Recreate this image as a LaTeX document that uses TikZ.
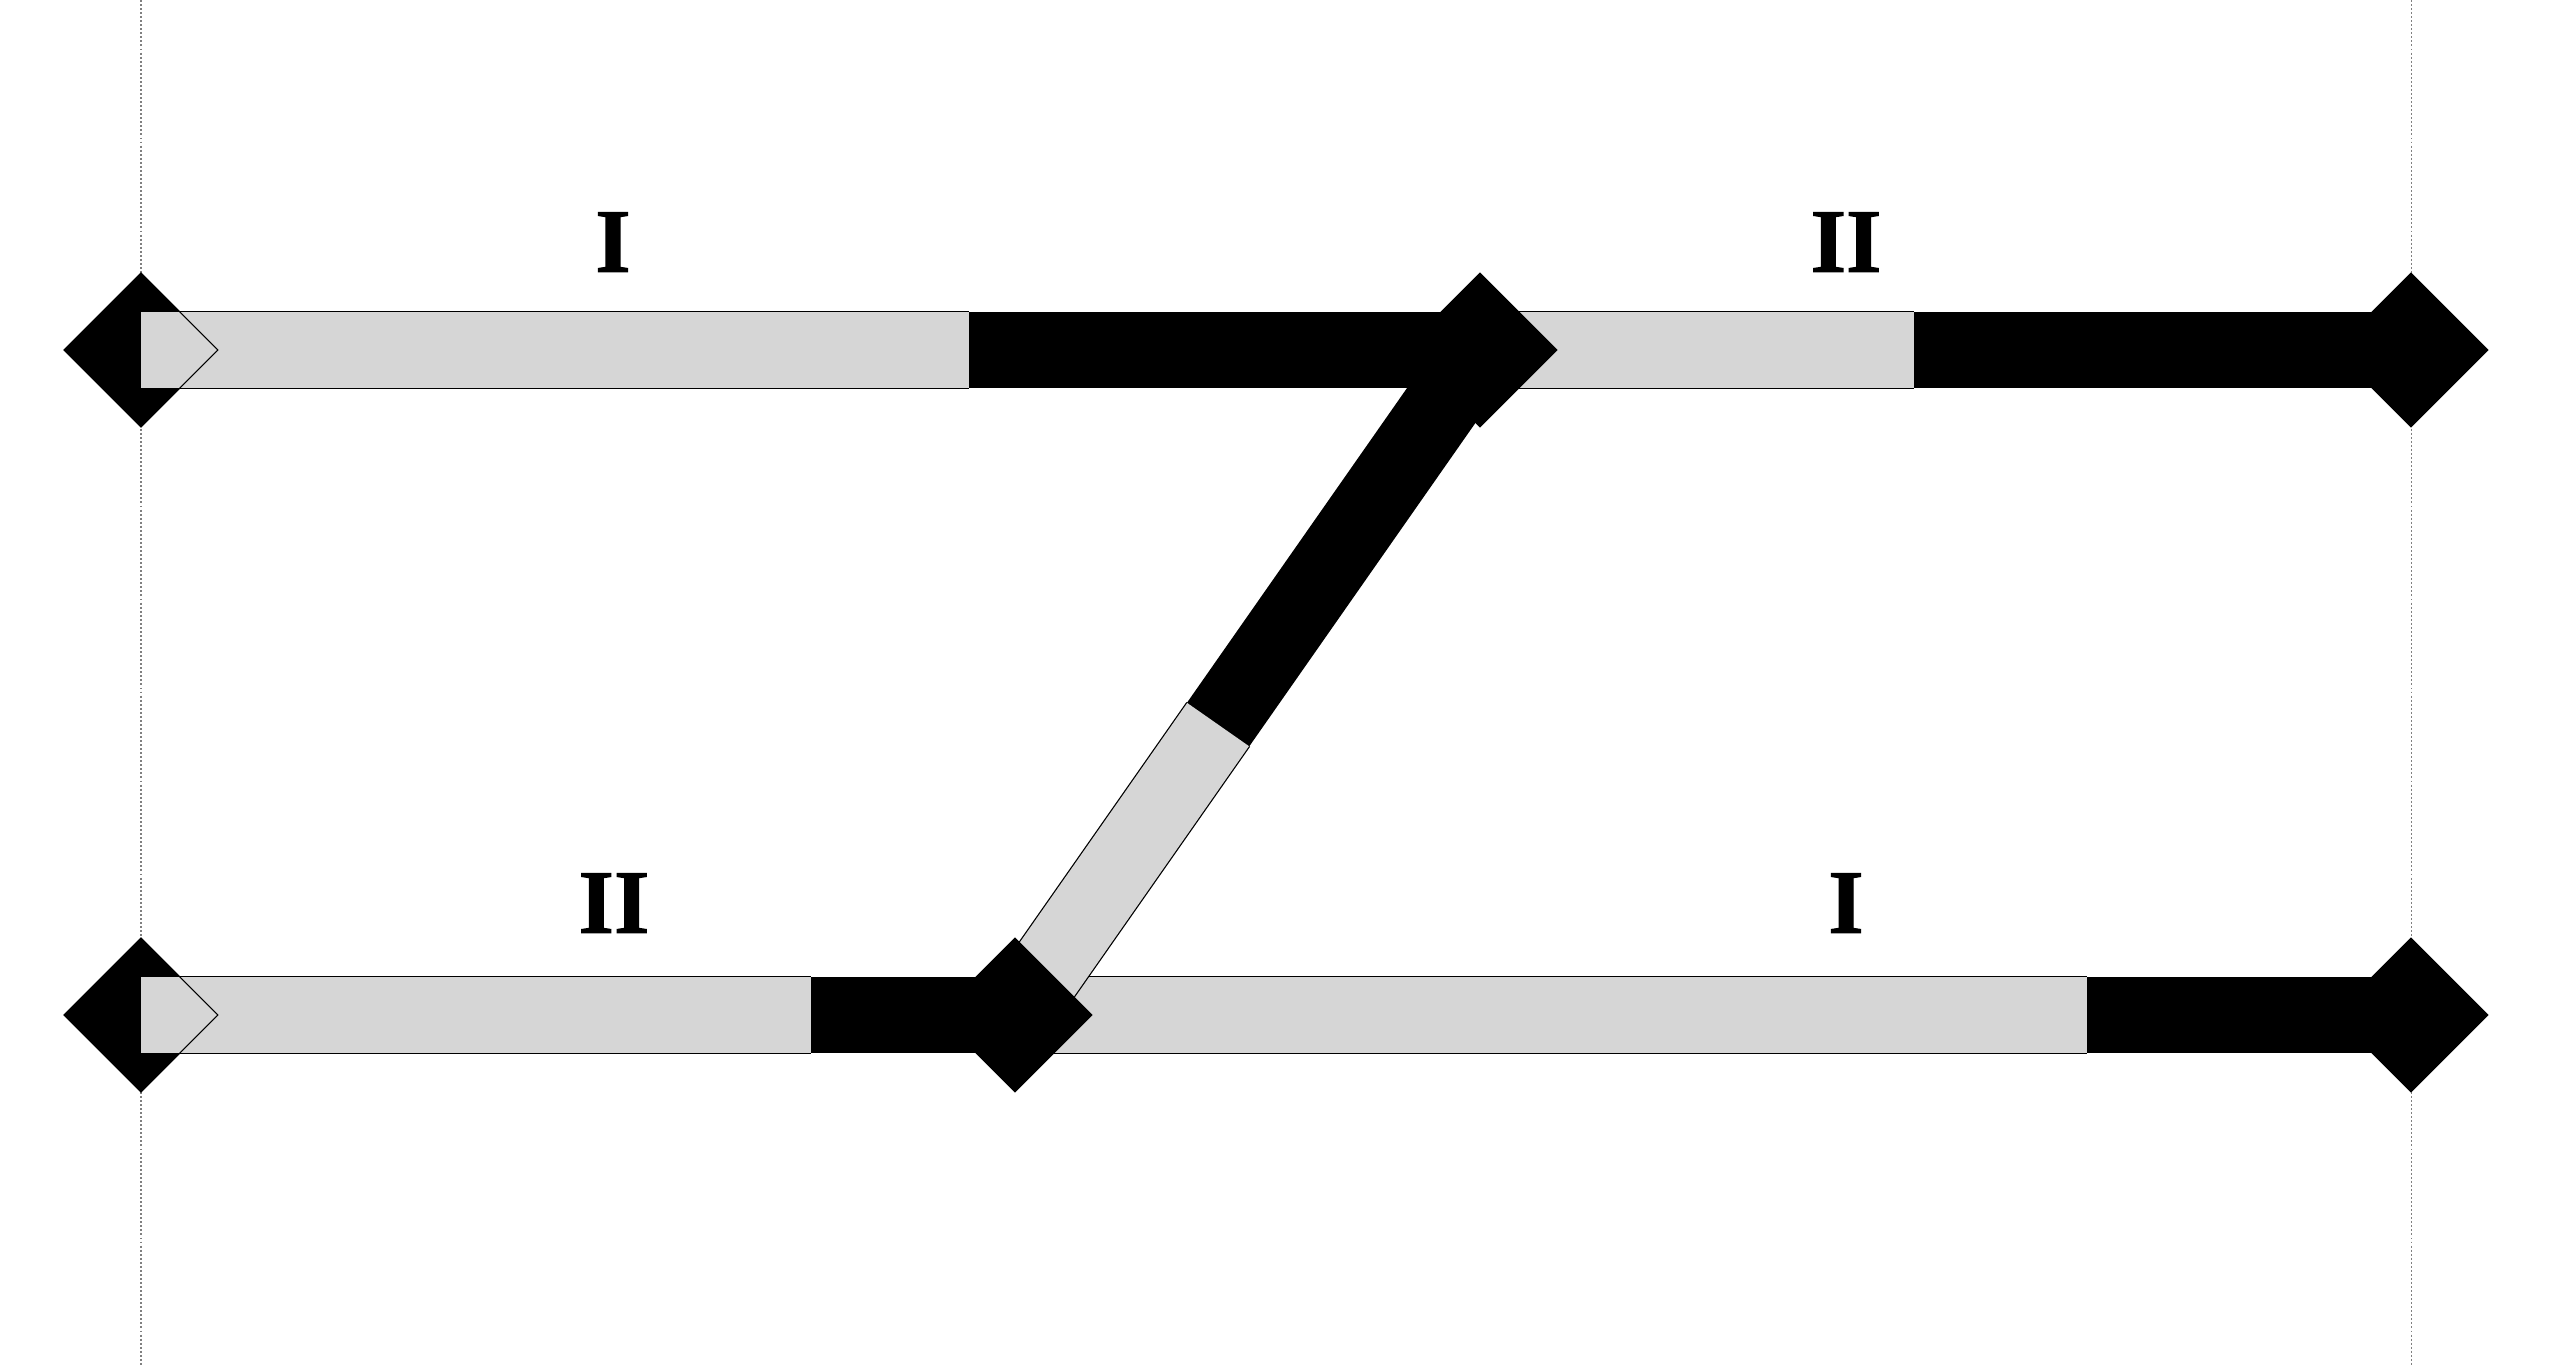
\documentclass[tikz,border=0pt]{standalone}
\usepackage{fontspec}
\setmainfont{Liberation Serif}
\newfontfamily\labelfont[BoldFeatures={FakeBold=1.2}]{Liberation Serif}
\usetikzlibrary{shapes.geometric,calc}
\definecolor{barGray}{RGB}{214,214,214}
\definecolor{guideGray}{RGB}{128,128,128}
\tikzset{
  station/.style={diamond, aspect=1, minimum width=1.54cm, minimum height=1.54cm, inner sep=0pt, fill=black, draw=black, line width=0.3pt},
  stationoutline/.style={diamond, aspect=1, minimum width=1.54cm, minimum height=1.54cm, inner sep=0pt, draw=black, line width=0.3pt},
  graybar/.style={draw=black, line width=0.35pt, double=barGray, double distance=0.7525cm, line cap=butt},
  blackbar/.style={draw=black, line width=0.76cm, line cap=butt},
  guide/.style={draw=guideGray, line width=0.3pt, dash pattern=on 0.55pt off 0.6pt},
  tracklabel/.style={inner sep=0pt, font=\labelfont\fontsize{25.8}{30}\selectfont\bfseries}
}
\begin{document}
\begin{tikzpicture}[x=0.01cm, y=-0.01cm]
\useasboundingbox (0,0) rectangle (2552,1366);
% guide lines
\coordinate (gl1) at (141,0);
\coordinate (gl2) at (141,1366);
\coordinate (gr1) at (2411,0);
\coordinate (gr2) at (2411,1366);
\draw[guide] (gl1) -- (gl2);
\draw[guide] (gr1) -- (gr2);
% left stations (under bars)
\node[station] (L1) at (141,350) {};
\node[station] (L2) at (141,1015) {};
% split coordinates
\coordinate (s1) at (969,350);
\coordinate (T2c) at (1480,350);
\coordinate (s2) at (1914,350);
\coordinate (R1c) at (2411,350);
\coordinate (s3) at (811,1015);
\coordinate (B2c) at (1015,1015);
\coordinate (s4) at (2087,1015);
\coordinate (R2c) at (2411,1015);
\coordinate (s5) at ($(B2c)!0.437!(T2c)$);
% top row
\draw[graybar] (L1.center) -- (s1);
\draw[blackbar] (s1) -- (T2c);
\draw[graybar] (T2c) -- (s2);
\draw[blackbar] (s2) -- (R1c);
% bottom row
\draw[graybar] (L2.center) -- (s3);
\draw[blackbar] (s3) -- (B2c);
\draw[graybar] (B2c) -- (s4);
\draw[blackbar] (s4) -- (R2c);
% diagonal
\draw[graybar] (B2c) -- (s5);
\draw[blackbar] (s5) -- (T2c);
% chevrons of left stations
\node[stationoutline] (L1o) at (141,350) {};
\node[stationoutline] (L2o) at (141,1015) {};
% stations on top
\node[station] (T2) at (T2c) {};
\node[station] (B2) at (B2c) {};
\node[station] (R1) at (R1c) {};
\node[station] (R2) at (R2c) {};
% labels
\node[tracklabel] (lt1) at (613,242) {I};
\node[tracklabel] (lt2) at (1846,242) {II};
\node[tracklabel] (lb1) at (614,903) {II};
\node[tracklabel] (lb2) at (1846,903) {I};
\end{tikzpicture}
\end{document}
